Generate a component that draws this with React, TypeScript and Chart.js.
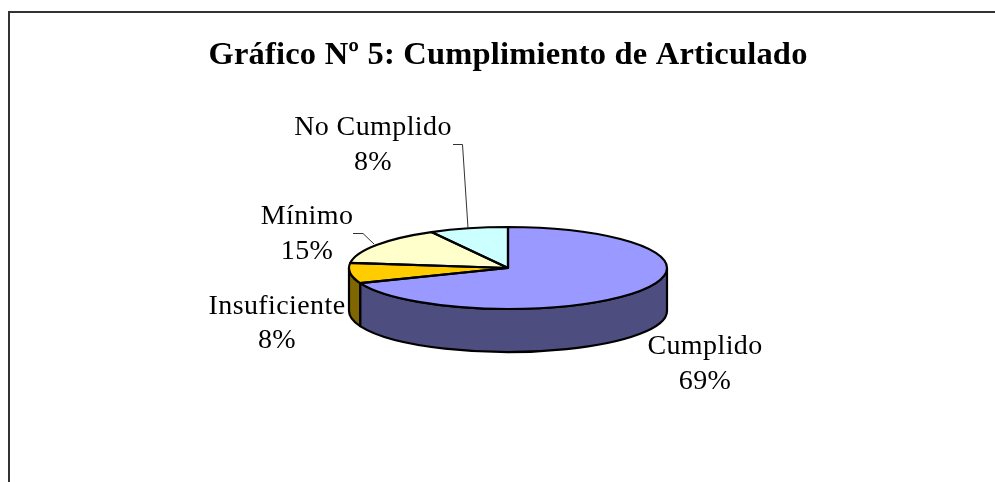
import React, { useEffect, useRef } from "react";
import { Chart, registerables } from "chart.js";

Chart.register(...registerables);

const titleText = "Gráfico Nº 5: Cumplimiento de Articulado";
const categories = ["Cumplido", "Insuficiente", "Mínimo", "No Cumplido"];
const shares = [69, 8, 15, 8];
const faceColors = ["#9999FF", "#FFCC00", "#FFFFCC", "#CCFFFF"];
const wallColors = ["#4D4D80", "#806600", "#808066", "#668080"];

const FONT = "'Liberation Serif', serif";
const TILT = 41 / 159;
const DEPTH = 43;

// centre x of the label, centre y of its two lines
const labelPlaces = [
  { x: 705, y1: 347, y2: 382 },
  { x: 277, y1: 307, y2: 341 },
  { x: 307, y1: 217, y2: 252 },
  { x: 373, y1: 128, y2: 163 },
];
const leaderLines: number[][][] = [
  [],
  [],
  [[353, 233.5], [363, 233.5], [374, 244]],
  [[453, 144.5], [462.5, 144.5], [468, 228]],
];

function wallPath(ctx: CanvasRenderingContext2D, cx: number, cy: number, r: number, a0: number, a1: number) {
  ctx.beginPath();
  ctx.ellipse(cx, cy, r, r * TILT, 0, a0, a1, false);
  ctx.ellipse(cx, cy + DEPTH, r, r * TILT, 0, a1, a0, true);
  ctx.closePath();
}

const pie3d = {
  id: "pie3d",
  beforeDraw(chart: any) {
    const ctx = chart.ctx;
    ctx.save();
    ctx.fillStyle = "#FFFFFF";
    ctx.fillRect(0, 0, chart.width, chart.height);
    ctx.strokeStyle = "#333333";
    ctx.lineWidth = 2;
    ctx.beginPath();
    ctx.moveTo(9, chart.height);
    ctx.lineTo(9, 12);
    ctx.lineTo(chart.width, 12);
    ctx.stroke();
    ctx.restore();
    ctx.letterSpacing = "0.2px";
  },
  beforeDatasetsDraw(chart: any) {
    const ctx = chart.ctx;
    ctx.letterSpacing = "0px";
    const arcs = chart.getDatasetMeta(0).data;
    ctx.save();
    ctx.lineWidth = 2.2;
    ctx.strokeStyle = "#000000";
    ctx.lineJoin = "round";
    arcs.forEach((arc: any, i: number) => {
      const { x, y, startAngle, endAngle, outerRadius } = arc.getProps(["x", "y", "startAngle", "endAngle", "outerRadius"]);
      const a0 = Math.max(startAngle, 0);
      const a1 = Math.min(endAngle, Math.PI);
      if (a1 > a0) {
        wallPath(ctx, x, y, outerRadius, a0, a1);
        ctx.fillStyle = wallColors[i];
        ctx.fill();
        ctx.stroke();
      }
    });
    ctx.restore();
    const first = arcs[0];
    ctx.save();
    ctx.translate(first.x, first.y);
    ctx.scale(1, TILT);
    ctx.translate(-first.x, -first.y);
  },
  afterDatasetsDraw(chart: any) {
    const ctx = chart.ctx;
    ctx.restore();
    ctx.save();
    ctx.lineWidth = 2.2;
    ctx.strokeStyle = "#000000";
    ctx.lineJoin = "round";
    const arcs = chart.getDatasetMeta(0).data;
    arcs.forEach((arc: any) => {
      const { x, y, startAngle, endAngle, outerRadius } = arc.getProps(["x", "y", "startAngle", "endAngle", "outerRadius"]);
      ctx.beginPath();
      ctx.moveTo(x, y);
      ctx.ellipse(x, y, outerRadius, outerRadius * TILT, 0, startAngle, endAngle, false);
      ctx.closePath();
      ctx.stroke();
    });
    ctx.strokeStyle = "#333333";
    ctx.lineWidth = 1;
    leaderLines.forEach((pts) => {
      if (!pts.length) return;
      ctx.beginPath();
      pts.forEach(([px, py], k) => (k ? ctx.lineTo(px, py) : ctx.moveTo(px, py)));
      ctx.stroke();
    });
    ctx.fillStyle = "#000000";
    ctx.font = `28px ${FONT}`;
    ctx.textAlign = "center";
    ctx.textBaseline = "middle";
    ctx.letterSpacing = "0.4px";
    categories.forEach((name, i) => {
      const p = labelPlaces[i];
      ctx.fillText(name, p.x, p.y1);
      ctx.fillText(`${shares[i]}%`, p.x, p.y2);
    });
    ctx.restore();
  },
};

export default function App() {
  const ref = useRef<HTMLCanvasElement>(null);
  useEffect(() => {
    const chart = new Chart(ref.current as HTMLCanvasElement, {
      type: "pie",
      data: {
        labels: categories,
        datasets: [
          {
            data: shares,
            backgroundColor: faceColors,
            borderWidth: 0,
          },
        ],
      },
      options: {
        animation: false,
        responsive: false,
        radius: 159,
        layout: { padding: { left: 21, right: 0, top: 0, bottom: 21 } },
        plugins: {
          legend: { display: false },
          tooltip: { enabled: false },
          title: {
            display: true,
            text: titleText,
            color: "#000000",
            font: { family: FONT, size: 32.5, weight: "bold", lineHeight: 1.2 },
            padding: { top: 36, bottom: 0 },
          },
        },
      },
      plugins: [pie3d],
    } as any);
    return () => chart.destroy();
  }, []);
  return (
    <canvas
      ref={ref}
      width={995}
      height={482}
      style={{ position: "absolute", left: 0, top: 0, display: "block" }}
    />
  );
}
